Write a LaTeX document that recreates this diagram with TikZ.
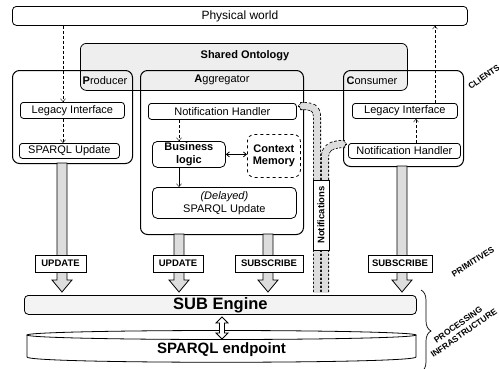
\documentclass[tikz,border=0pt]{standalone}
\usepackage{fontspec}
\setmainfont{Liberation Sans}
\usepackage{tikz}
\usetikzlibrary{calc,arrows.meta,decorations.pathreplacing}
\definecolor{band}{HTML}{DDDDDD}
\definecolor{onto}{HTML}{EEEEEE}
\definecolor{engfill}{HTML}{F3F3F3}
\tikzset{
  client/.style={draw, line width=1pt, rounded corners=7pt, anchor=north west, inner sep=0pt},
  part/.style={draw, line width=0.8pt, rounded corners=3pt, anchor=north west, inner sep=0pt, align=center, font=\fontsize{11}{12.5}\selectfont},
  lbl/.style={font=\fontsize{11}{12}\selectfont},
  prim/.style={draw, fill=white, line width=0.8pt, inner sep=0pt, minimum height=17pt, font=\fontsize{9.5}{10}\selectfont\bfseries},
  layer/.style={font=\fontsize{8.5}{10}\selectfont\bfseries, align=center},
  flow/.style={dash pattern=on 3pt off 2pt, -{Straight Barb[length=3pt,width=5pt]}},
  fat/.style={draw, fill=band, line width=0.8pt}
}
\begin{document}
\begin{tikzpicture}[x=1pt, y=-1pt]
\useasboundingbox (0,0) rectangle (499,368);
% outside world and ontology
\node[part, minimum width=455pt, minimum height=19pt, rounded corners=4pt, font=\fontsize{12}{13}\selectfont] (world) at (12,6) {Physical world};
\node[part, fill=onto, minimum width=327pt, minimum height=47pt, rounded corners=6pt] (onto) at (80,43) {};
\node[lbl] (ontoT) at (245,56) {\textbf{Shared Ontology}};

% clients
\node[client, minimum width=120pt, minimum height=93pt] (prod) at (12,70) {};
\node[client, minimum width=163pt, minimum height=164pt] (aggr) at (140,70) {};
\node[client, minimum width=120pt, minimum height=96pt] (cons) at (343,70) {};
\node[lbl] (prodT) at (105,81) {\textbf{P}roducer};
\node[lbl] (aggrT) at (222,80) {\textbf{A}ggregator};
\node[lbl] (consT) at (372,81) {\textbf{C}onsumer};

% producer
\node[part, minimum width=104pt, minimum height=16pt] (pLegacy) at (20,102) {Legacy Interface};
\node[part, minimum width=100pt, minimum height=15pt] (pUpdate) at (19,143) {SPARQL Update};
% aggregator
\node[part, minimum width=148pt, minimum height=16pt] (aNotif) at (148,103) {Notification Handler};
\node[part, minimum width=73pt, minimum height=26pt, rounded corners=5pt, font=\fontsize{11}{12.5}\selectfont\bfseries] (aLogic) at (152,141) {Business\\logic};
\node[part, dashed, minimum width=53pt, minimum height=43pt, rounded corners=7pt, font=\fontsize{11}{12.5}\selectfont\bfseries] (aMemory) at (247,134) {Context\\Memory};
\node[part, minimum width=144pt, minimum height=31pt, rounded corners=5pt] (aUpdate) at (152,187) {\textit{(Delayed)}\\SPARQL Update};
% consumer
\node[part, minimum width=105pt, minimum height=15pt] (cLegacy) at (352,103) {Legacy Interface};
\node[part, minimum width=112pt, minimum height=15pt] (cNotif) at (348,143) {Notification Handler};

% inner flows
\coordinate (pLine) at (63,0);
\coordinate (aLine) at (179,0);
\coordinate (cLine) at (416,0);
\coordinate (wLine) at (435,0);
\draw[flow] (world.south -| pLine) -- (pLegacy.north -| pLine);
\draw[flow] (pLegacy.south -| pLine) -- (pUpdate.north -| pLine);
\draw[flow] (aNotif.south -| aLine) -- (aLogic.north -| aLine);
\draw[-{Straight Barb[length=3pt,width=5pt]}] (aLogic.south -| aLine) -- (aUpdate.north -| aLine);
\draw[{Straight Barb[length=3pt,width=5pt]}-{Straight Barb[length=3pt,width=5pt]}, line width=0.8pt] (aLogic.east) -- (aMemory.west |- aLogic.east);
\draw[flow] (cNotif.north -| cLine) -- (cLegacy.south -| cLine);
\draw[flow] (cLegacy.north -| wLine) -- (world.south -| wLine);

% primitives
\foreach \x/\t in {62/163, 179/234, 268/234, 402/166}
  \draw[fat] ({\x-5},\t) -- ({\x-5},280) -- ({\x-10},280) -- (\x,292)
    -- ({\x+10},280) -- ({\x+5},280) -- ({\x+5},\t) -- cycle;
\node[prim, minimum width=51pt] (pUp) at (60.5,263.5) {UPDATE};
\node[prim, minimum width=50pt] (aUp) at (178,263.5) {UPDATE};
\node[prim, minimum width=68pt] (aSub) at (269,263.5) {SUBSCRIBE};
\node[prim, minimum width=64pt] (cSub) at (400,263.5) {SUBSCRIBE};

% notifications back to the handlers
\coordinate (nLend) at ($(aNotif.north east)+(3,3)$);
\coordinate (nRend) at ($(cNotif.north west)+(-3,1)$);
\draw[line width=8pt, dash pattern=on 2.5pt off 1.5pt] (317,292) -- (317,118) .. controls (317,107) and (312,106) .. (nLend);
\draw[line width=6.4pt, band] (317,292) -- (317,118) .. controls (317,107) and (312,106) .. (nLend);
\draw[line width=8pt, dash pattern=on 2.5pt off 1.5pt] (325,292) -- (325,158) .. controls (325,147) and (332,144) .. (nRend);
\draw[line width=6.4pt, band] (325,292) -- (325,158) .. controls (325,147) and (332,144) .. (nRend);
\draw[-{Straight Barb[length=3pt,width=6pt]}] (nLend) -- ++(-2,0);
\draw[-{Straight Barb[length=3pt,width=6pt]}] (nRend) -- ++(2,0);
\node[prim, minimum width=70pt, minimum height=16pt, rotate=90] (notif) at (321,215) {Notifications};

% processing infrastructure
\node[part, fill=engfill, minimum width=392pt, minimum height=19pt, rounded corners=4pt, font=\fontsize{16.5}{18}\selectfont\bfseries] (engine) at (24,295) {SUB Engine};
\draw[line width=0.8pt, fill=white] (27,335) -- (27,357) .. controls (27,364) and (416,364) .. (416,357) -- (416,335);
\draw[line width=0.8pt] (221.5,335) ellipse [x radius=194.5pt, y radius=4.5pt];
\node[font=\fontsize{15}{16}\selectfont\bfseries] (endpoint) at (221.5,350) {SPARQL endpoint};
% engine <-> endpoint
\draw[line width=0.8pt, fill=white] (222,317) -- (228,323) -- (224.5,323) -- (224.5,333) -- (228,333) -- (222,339)
  -- (216,333) -- (219.5,333) -- (219.5,323) -- (216,323) -- cycle;

% layers
\draw[decorate, decoration={brace, amplitude=10pt}, line width=0.7pt] (421,290) -- (421,372);
\node[layer, rotate=35] (clients) at (484,77) {CLIENTS};
\node[layer, rotate=32] (prims) at (473,262) {PRIMITIVES};
\node[layer, rotate=35] (infra) at (461,329) {PROCESSING\\INFRASTRUCTURE};
\end{tikzpicture}
\end{document}
